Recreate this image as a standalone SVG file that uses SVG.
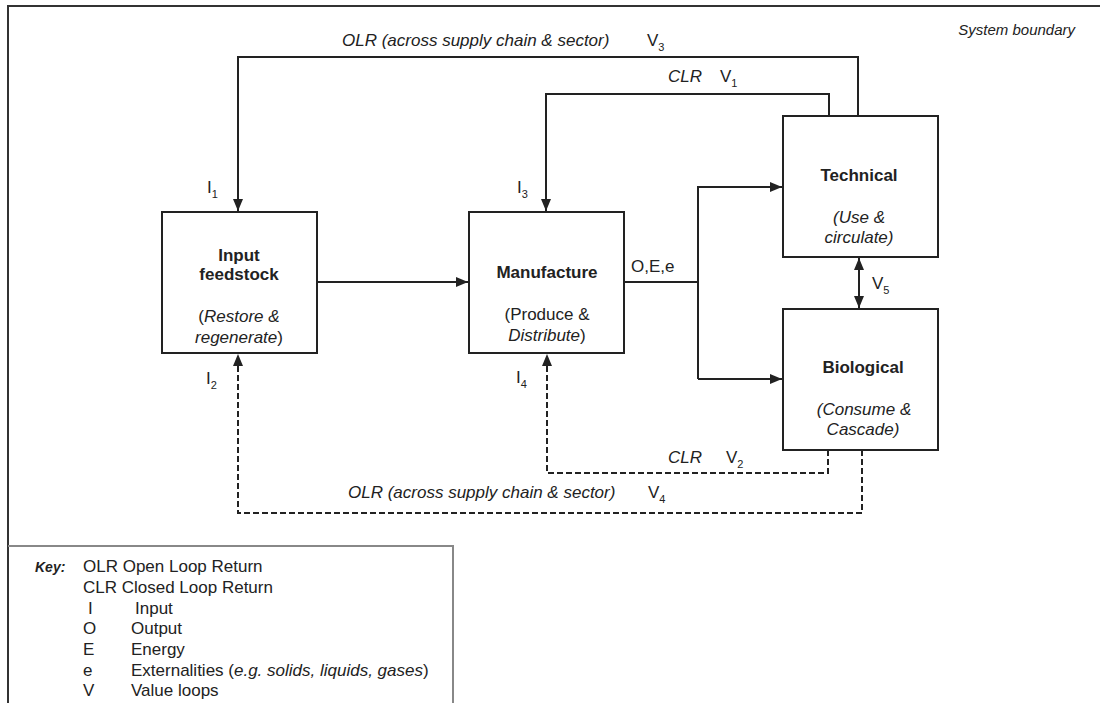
<svg xmlns="http://www.w3.org/2000/svg" width="1100" height="703" viewBox="0 0 1100 703">
<style>
text{font-family:"Liberation Sans",Arial,sans-serif;font-size:17px;fill:#222}
.b{font-weight:bold}
.i{font-style:italic}
.sub{font-size:11px}
.m{text-anchor:middle}
.box{fill:#fff;stroke:#222;stroke-width:2}
.ln{fill:none;stroke:#222;stroke-width:2}
.dl{fill:none;stroke:#222;stroke-width:2;stroke-dasharray:6,3}
</style>
<defs>
<marker id="ah" viewBox="0 0 12 10" refX="12" refY="5" markerWidth="12" markerHeight="10" markerUnits="userSpaceOnUse" orient="auto-start-reverse">
<path d="M0,0 L12,5 L0,10 z" fill="#222"/>
</marker>
</defs>
<rect width="1100" height="703" fill="#fff"/>
<g id="boundary">
<path d="M8,703 L8,6 L1100,6" fill="none" stroke="#333" stroke-width="2"/>
<text x="1075" y="35" class="i" style="font-size:15px;text-anchor:end">System boundary</text>
</g>
<g id="connectors">
<path class="ln" d="M858,116 L858,57 L238,57 L238,211" marker-end="url(#ah)"/>
<path class="ln" d="M829,116 L829,94 L546,94 L546,211" marker-end="url(#ah)"/>
<path class="ln" d="M318,282 L468,282" marker-end="url(#ah)"/>
<path class="ln" d="M624,282 L698,282"/>
<path class="ln" d="M698,379 L698,187 L782,187" marker-end="url(#ah)"/>
<path class="ln" d="M698,379 L782,379" marker-end="url(#ah)"/>
<path class="ln" d="M859,258 L859,308" marker-start="url(#ah)" marker-end="url(#ah)"/>
<path class="dl" d="M828,450 L828,473 L547,473 L547,354" marker-end="url(#ah)"/>
<path class="dl" d="M862,450 L862,513 L238,513 L238,354" marker-end="url(#ah)"/>
<text x="342" y="46" class="i">OLR (across supply chain &amp; sector)</text>
<text x="647" y="46">V<tspan class="sub" dy="5">3</tspan></text>
<text x="668" y="82" class="i">CLR</text>
<text x="720" y="82">V<tspan class="sub" dy="5">1</tspan></text>
<text x="207" y="193">I<tspan class="sub" dy="5">1</tspan></text>
<text x="517" y="193">I<tspan class="sub" dy="5">3</tspan></text>
<text x="206" y="384">I<tspan class="sub" dy="5">2</tspan></text>
<text x="516" y="383">I<tspan class="sub" dy="5">4</tspan></text>
<text x="631" y="272">O,E,e</text>
<text x="872" y="289">V<tspan class="sub" dy="5">5</tspan></text>
<text x="668" y="463" class="i">CLR</text>
<text x="726" y="463">V<tspan class="sub" dy="5">2</tspan></text>
<text x="348" y="498" class="i">OLR (across supply chain &amp; sector)</text>
<text x="648" y="498">V<tspan class="sub" dy="5">4</tspan></text>
</g>
<g id="input-feedstock">
<rect class="box" x="162" y="212" width="155" height="141"/>
<text x="239" y="261" class="m b">Input</text>
<text x="239" y="280" class="m b">feedstock</text>
<text x="239" y="322" class="m">(<tspan class="i">Restore &amp;</tspan></text>
<text x="239" y="343" class="m"><tspan class="i">regenerate</tspan>)</text>
</g>
<g id="manufacture">
<rect class="box" x="469" y="212" width="155" height="141"/>
<text x="547" y="278" class="m b">Manufacture</text>
<text x="547" y="320" class="m">(Produce &amp;</text>
<text x="547" y="341" class="m"><tspan class="i">Distribute</tspan>)</text>
</g>
<g id="technical">
<rect class="box" x="783" y="116" width="155" height="141"/>
<text x="859" y="181" class="m b">Technical</text>
<text x="859" y="223" class="m i">(Use &amp;</text>
<text x="859" y="243" class="m i">circulate)</text>
</g>
<g id="biological">
<rect class="box" x="783" y="309" width="155" height="141"/>
<text x="863" y="373" class="m b">Biological</text>
<text x="864" y="415" class="m i">(Consume &amp;</text>
<text x="863" y="435" class="m i">Cascade)</text>
</g>
<g id="key">
<path d="M8,546 L453,546 L453,703" fill="none" stroke="#888" stroke-width="2"/>
<text x="35" y="572" class="b i" style="font-size:14px">Key:</text>
<text x="83" y="572">OLR  Open Loop Return</text>
<text x="83" y="593">CLR  Closed Loop Return</text>
<text x="88" y="614">I</text><text x="135" y="614">Input</text>
<text x="83" y="634">O</text><text x="131" y="634">Output</text>
<text x="83" y="655">E</text><text x="131" y="655">Energy</text>
<text x="83" y="676">e</text><text x="131" y="676">Externalities (<tspan class="i">e.g. solids, liquids, gases</tspan>)</text>
<text x="83" y="696">V</text><text x="131" y="696">Value loops</text>
</g>
</svg>
